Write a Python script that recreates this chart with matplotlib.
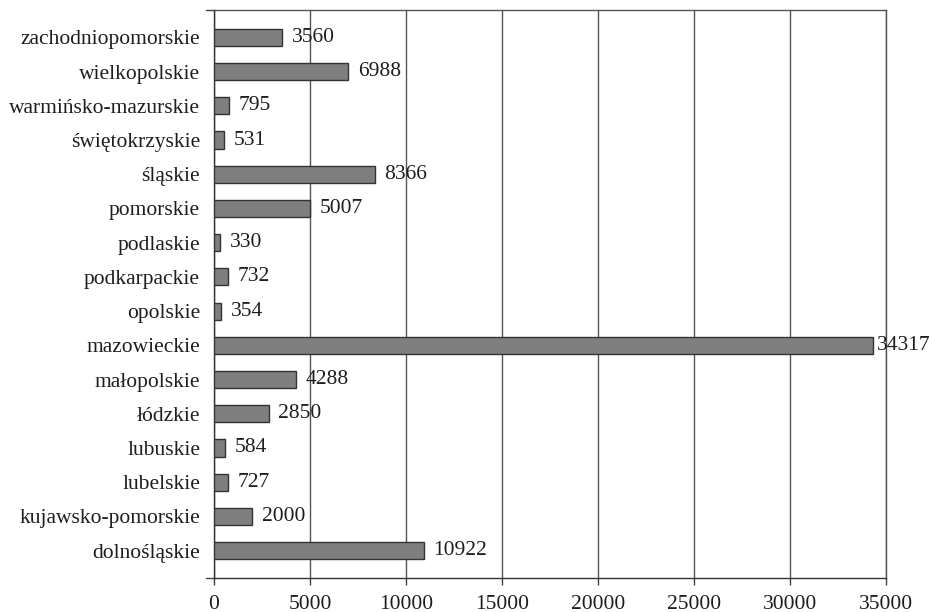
import matplotlib
matplotlib.use('Agg')
import matplotlib.pyplot as plt
import numpy as np

regions = ['dolnośląskie', 'kujawsko-pomorskie', 'lubelskie', 'lubuskie', 'łódzkie',
           'małopolskie', 'mazowieckie', 'opolskie', 'podkarpackie', 'podlaskie',
           'pomorskie', 'śląskie', 'świętokrzyskie', 'warmińsko-mazurskie',
           'wielkopolskie', 'zachodniopomorskie']
values = [10922, 2000, 727, 584, 2850, 4288, 34317, 354, 732, 330,
          5007, 8366, 531, 795, 6988, 3560]
xticks = [0, 5000, 10000, 15000, 20000, 25000, 30000, 35000]

plt.rcParams['font.family'] = ['Liberation Serif', 'DejaVu Serif']
txt = '#1e1e1e'
fs = 15.5

fig = plt.figure(figsize=(9.32, 6.12), dpi=100)
ax = fig.add_axes([214/932, 1 - 578/612, 672/932, 568/612])

y = np.arange(len(regions))
ax.barh(y, values, height=0.5, color='#7f7f7f', edgecolor='#333333', linewidth=1.0, zorder=3)
for yi, v in zip(y, values):
    off = 3 if v > 30000 else 7
    ax.annotate(str(v), (v, yi), xytext=(off, 0), textcoords='offset points',
                va='center', ha='left', fontsize=fs, color=txt, zorder=4)

ax.set_xlim(0, 35000)
ax.set_ylim(-0.8, len(regions) - 0.2)
ax.set_xticks(xticks)
ax.set_xticklabels([str(t) for t in xticks], fontsize=fs, color=txt)
ax.set_yticks(y)
ax.set_yticklabels(regions, fontsize=fs, color=txt)
ax.tick_params(axis='y', length=0, pad=10)
ax.tick_params(axis='x', length=5, width=1, color='#444444', direction='out', pad=7)
ax.xaxis.grid(True, color='#555555', linewidth=1.0, zorder=0)

for side in ['top', 'right', 'left', 'bottom']:
    ax.spines[side].set_color('#555555')
    ax.spines[side].set_linewidth(1.0)
ax.spines['left'].set_color('#333333')
ax.spines['bottom'].set_color('#333333')

# small extensions of top and bottom lines to the left of the axis
for yy in ax.get_ylim():
    ax.plot([-8/672*35000, 0], [yy, yy], color='#444444', linewidth=1.0, clip_on=False)

fig.savefig('out.png', dpi=100)
